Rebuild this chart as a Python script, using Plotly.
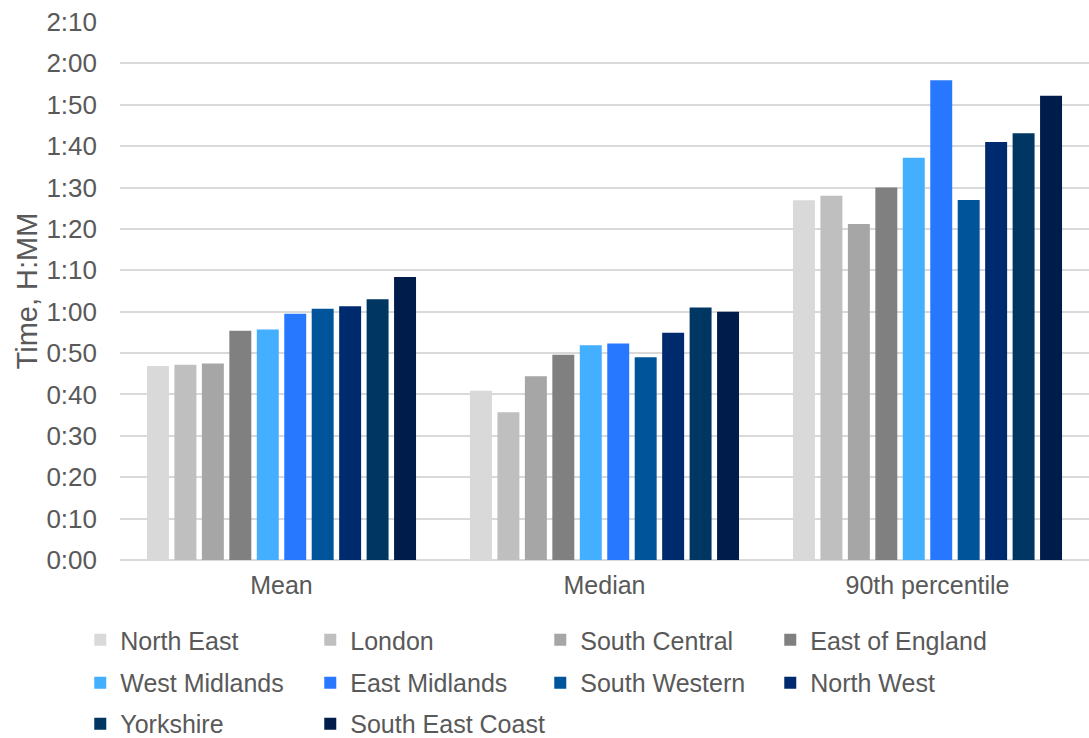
import plotly.graph_objects as go

categories = ["Mean", "Median", "90th percentile"]
regions = ["North East", "London", "South Central", "East of England",
           "West Midlands", "East Midlands", "South Western", "North West",
           "Yorkshire", "South East Coast"]
# values in minutes: [Mean, Median, 90th percentile]
north_east = [46.9, 40.9, 86.9]
london = [47.2, 35.7, 88.0]
south_central = [47.5, 44.4, 81.2]
east_of_england = [55.4, 49.6, 90.0]
west_midlands = [55.7, 51.9, 97.2]
east_midlands = [59.5, 52.3, 115.9]
south_western = [60.7, 49.0, 87.0]
north_west = [61.3, 54.9, 101.0]
yorkshire = [63.0, 61.0, 103.1]
south_east_coast = [68.4, 60.0, 112.2]

series = [north_east, london, south_central, east_of_england, west_midlands,
          east_midlands, south_western, north_west, yorkshire, south_east_coast]
colors = ["#D9D9D9", "#BFBFBF", "#A6A6A6", "#808080", "#44AEFF",
          "#2878FF", "#00559A", "#002A6E", "#003662", "#001C4A"]

tick_vals = [0, 10, 20, 30, 40, 50, 60, 70, 80, 90, 100, 110, 120, 130]
tick_text = ["0:00", "0:10", "0:20", "0:30", "0:40", "0:50", "1:00", "1:10",
             "1:20", "1:30", "1:40", "1:50", "2:00", "2:10"]

legend_names = ["legend", "legend", "legend", "legend",
                "legend2", "legend2", "legend2", "legend2",
                "legend3", "legend4"]

fig = go.Figure()
for name, vals, col, lg in zip(regions, series, colors, legend_names):
    fig.add_trace(go.Bar(x=categories, y=vals, name=name, marker_color=col,
                         marker_line_width=0, legend=lg))

font_fam = "Liberation Sans, Arial, sans-serif"
txt = "#595959"
row_y = [-0.1487, -0.2286, -0.3048]
x0 = -0.041
col_step = 230 / 969
leg_common = dict(orientation="h", xanchor="left", yanchor="middle",
                  entrywidth=185, entrywidthmode="pixels",
                  font=dict(size=25, color=txt, family=font_fam),
                  traceorder="normal", itemwidth=30, bgcolor="rgba(0,0,0,0)")

fig.update_layout(
    width=1089, height=738,
    margin=dict(l=120, r=0, t=22, b=178, autoexpand=False),
    plot_bgcolor="white", paper_bgcolor="white",
    barmode="group", bargap=0.15, bargroupgap=0.2,
    font=dict(family=font_fam, color=txt, size=25),
    yaxis=dict(range=[0, 130], tickvals=tick_vals, ticktext=tick_text,
               showgrid=True, gridcolor="#D9D9D9", gridwidth=1.5,
               zeroline=True, zerolinecolor="#D9D9D9", zerolinewidth=1.5,
               tickfont=dict(size=26, color=txt), ticks="",
               ticklabelstandoff=22,
               title=dict(text="Time, H:MM", font=dict(size=29, color=txt),
                          standoff=0)),
    xaxis=dict(tickfont=dict(size=25, color=txt), showline=False,
               ticks="", ticklabelstandoff=8),
    legend=dict(x=x0, y=row_y[0], **leg_common),
    legend2=dict(x=x0, y=row_y[1], **leg_common),
    legend3=dict(x=x0, y=row_y[2], **leg_common),
    legend4=dict(x=x0 + col_step, y=row_y[2],
                 **{**leg_common, "entrywidth": 230}),
    showlegend=True,
)

fig.write_html("out.html")
